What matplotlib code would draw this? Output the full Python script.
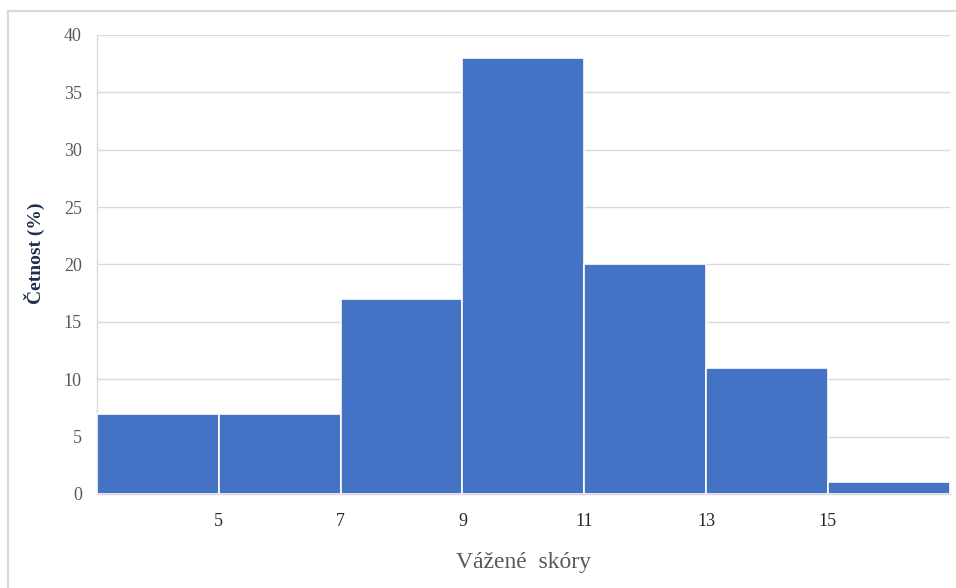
import numpy as np
import matplotlib.pyplot as plt
from matplotlib.patches import Rectangle

# histogram of weighted scores, bins of width 2
bin_edges = [3, 5, 7, 9, 11, 13, 15, 17]
freq_pct = [7, 7, 17, 38, 20, 11, 1]
x_ticks = [5, 7, 9, 11, 13, 15]
y_ticks = [0, 5, 10, 15, 20, 25, 30, 35, 40]

plt.rcParams["font.family"] = ["Liberation Serif", "DejaVu Serif"]

fig = plt.figure(figsize=(9.56, 5.88), dpi=100)
ax = fig.add_axes([0.1015, 0.16, 0.892, 0.7805])

# chart frame (open to the right and bottom)
fig.patches.append(Rectangle((8 / 956, -0.1), 1.2, 1.0813, transform=fig.transFigure,
                             fill=False, edgecolor="#d9d9d9", linewidth=1.6))

left = np.array(bin_edges[:-1])
widths = np.diff(bin_edges)
ax.bar(left, freq_pct, width=widths, align="edge", color="#4472C4",
       edgecolor="white", linewidth=1.2, zorder=3)

ax.set_xlim(bin_edges[0], bin_edges[-1])
ax.set_ylim(0, 40)
ax.set_xticks(x_ticks)
ax.set_yticks(y_ticks)
ax.tick_params(axis="both", length=0)
ax.tick_params(axis="y", pad=11, labelsize=13, labelcolor="#595959")
ax.tick_params(axis="x", pad=14, labelsize=13, labelcolor="#262626")

ax.grid(axis="y", color="#d9d9d9", linewidth=1.0, zorder=0)
for side in ["top", "right"]:
    ax.spines[side].set_visible(False)
ax.spines["left"].set_color("#d9d9d9")
ax.spines["bottom"].set_color("#d9d9d9")
ax.spines["left"].set_linewidth(1.0)
ax.spines["bottom"].set_linewidth(1.0)

ax.set_ylabel("Četnost (%)", fontsize=14, fontweight="bold", color="#1f2d4d")
ax.yaxis.set_label_coords(-0.061, 0.525)
ax.set_xlabel("Vážené  skóry", fontsize=17, color="#595959")
ax.xaxis.set_label_coords(0.5, -0.127)

fig.savefig("out.png", dpi=100)
